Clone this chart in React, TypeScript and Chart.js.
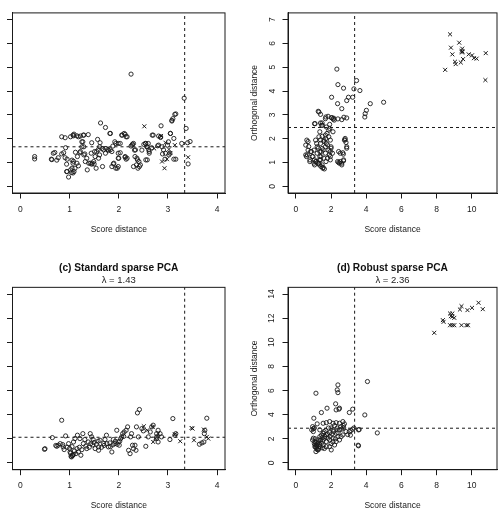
import React, { useEffect, useRef } from "react";
import { Chart, registerables } from "chart.js";
Chart.register(...registerables);

const FONT = "'Liberation Sans', Arial, Helvetica, sans-serif";
const INK = "#1a1a1a";

// ---- tick values ----
const xTicksSmall = [0, 1, 2, 3, 4];
const xTicksWide = [0, 2, 4, 6, 8, 10];
const yTicks7 = [0, 1, 2, 3, 4, 5, 6, 7];
const yTicks14 = [0, 2, 4, 6, 8, 10, 12, 14];

// ---- panel (a): score distance / orthogonal distance ----
const aRegular: [number, number][] = [
  [0.29,1.25],[0.29,1.15],[0.67,1.39],[0.70,1.42],[0.64,1.12],[0.74,1.10],[0.77,1.20],[0.84,1.36],[0.91,1.20],[0.84,2.08],
  [0.91,2.04],[0.92,1.62],[0.94,0.93],[0.94,0.62],[0.98,0.39],[1.02,2.08],[1.07,2.15],[1.08,2.12],[1.05,1.10],[1.08,1.05],
  [1.07,0.56],[1.04,0.58],[1.11,0.76],[1.15,0.97],[1.16,1.25],[1.18,0.86],[1.21,1.41],[1.25,1.66],[1.27,1.87],[1.18,2.08],
  [1.28,2.15],[1.38,2.17],[1.31,1.36],[1.35,1.18],[1.36,0.69],[1.42,0.97],[1.45,0.93],[1.50,0.94],[1.55,1.46],[1.59,1.18],
  [1.54,0.76],[1.61,1.32],[1.62,1.83],[1.57,1.97],[1.45,1.83],[1.63,2.66],[1.73,2.47],[1.67,0.83],[1.74,1.59],[1.79,1.50],
  [1.82,2.22],[1.88,1.69],[1.92,1.87],[1.89,0.94],[1.94,0.76],[1.99,0.83],[1.99,1.80],[2.03,1.41],[1.99,1.18],[2.06,2.15],
  [2.11,2.22],[2.15,2.08],[2.13,1.22],[2.15,1.14],[2.25,4.71],[2.25,1.69],[2.28,1.77],[2.30,0.83],[2.32,1.52],[2.33,1.25],
  [2.38,1.11],[2.36,0.90],[2.42,0.83],[2.47,1.52],[2.51,1.76],[2.55,1.80],[2.57,1.66],[2.60,1.80],[2.55,1.11],[2.62,1.39],
  [2.70,2.15],[2.67,1.62],[2.79,1.70],[2.86,2.54],[2.85,2.08],[2.89,1.36],[2.94,1.14],[2.99,1.73],[3.01,1.87],[3.04,1.39],
  [3.08,2.74],[3.10,2.84],[3.16,3.04],[3.05,2.22],[3.12,1.14],[3.16,1.14],[3.28,1.80],[3.33,3.70],[3.37,2.43],[3.40,1.83],
  [3.45,1.88],[3.41,0.94],
  [0.63,1.14],[0.88,1.41],[0.95,1.14],[0.95,0.62],[1.02,0.69],[1.05,0.76],[1.09,0.62],[1.07,0.97],[1.12,1.43],[1.09,2.19],
  [1.15,2.12],[1.22,2.11],[1.29,2.15],[1.25,1.87],[1.29,1.66],[1.22,1.46],[1.29,1.32],[1.32,1.04],[1.39,0.97],[1.46,0.97],
  [1.49,1.04],[1.44,1.39],[1.51,1.46],[1.52,1.25],[1.58,1.53],[1.61,1.66],[1.66,1.59],[1.69,1.53],[1.73,1.39],[1.78,1.55],
  [1.83,1.53],[1.86,1.46],[1.83,2.22],[1.86,0.83],[1.90,0.97],[1.97,0.76],[2.00,1.18],[1.99,1.39],[1.94,1.80],[2.03,1.80],
  [2.07,2.15],[2.13,2.18],[2.17,2.08],[2.13,1.25],[2.17,1.18],[2.27,1.73],[2.30,1.80],[2.34,1.53],[2.37,1.18],[2.41,1.04],
  [2.44,0.90],[2.39,0.76],[2.54,1.80],[2.58,1.66],[2.61,1.53],[2.58,1.11],[2.62,1.46],[2.68,2.15],[2.81,2.11],[2.85,2.05],
  [2.81,1.73],[2.88,1.66],[2.91,1.53],[2.95,1.39],[3.02,1.32],[3.05,2.22],[3.08,2.77],[3.14,3.02],[3.12,2.01],
];
const aOutliers: [number, number][] = [
  [2.52,2.52],[2.86,2.11],[2.95,1.83],[3.14,1.73],[2.88,1.04],[2.98,1.14],[2.93,0.76],[3.41,1.22],[3.02,1.55],[2.72,1.59],[3.05,1.40],
];
const aCutoffs = [3.34, 1.66];

// ---- panel (b) ----
const bRegular: [number, number][] = [
  [2.33,4.92],[2.39,4.27],[2.71,4.12],[2.03,3.74],[2.37,3.47],[2.61,3.26],[2.89,3.60],[2.99,3.74],[3.23,3.74],[3.30,4.09],
  [3.45,4.44],[3.64,4.02],[3.92,2.91],[4.01,3.19],[4.23,3.47],[4.99,3.53],[3.94,3.05],[2.89,2.87],[2.61,2.80],[2.80,2.01],
  [2.89,1.66],[2.76,1.94],[2.43,1.46],[2.67,1.41],[2.37,1.04],[2.48,0.97],[2.61,0.90],[2.71,1.11],[1.96,1.94],[2.11,2.29],
  [1.87,2.36],[2.05,2.88],[2.12,2.82],[2.18,2.78],[2.15,2.86],[1.68,2.84],[1.31,3.12],[1.27,3.15],[1.40,3.02],[1.06,2.63],
  [1.49,2.66],[1.46,2.56],[1.68,2.15],[1.77,2.22],[1.92,2.43],[1.87,2.08],[2.00,1.66],[1.96,1.46],[1.96,1.25],[1.96,1.11],
  [1.73,1.80],[1.87,1.52],[1.68,1.39],[1.59,1.18],[1.49,0.90],[1.55,0.79],[1.40,1.11],[1.31,0.97],[1.12,1.04],[1.03,0.97],
  [0.93,1.25],[0.80,1.11],[0.65,1.32],[0.56,1.32],[0.56,1.73],[0.62,1.94],[0.69,1.52],[0.84,1.46],[1.03,1.52],[1.12,1.94],
  [1.31,2.08],[1.21,1.66],[1.40,1.80],[1.49,1.59],[1.21,1.39],[1.36,1.25],[1.44,1.46],[1.59,1.94],[1.68,1.66],
  [1.70,2.91],[1.83,2.94],[2.02,2.88],[2.39,2.83],[2.73,2.90],[1.09,2.63],[1.40,2.66],[1.51,2.56],[1.73,2.49],[1.92,2.60],
  [1.36,2.29],[1.50,2.10],[1.40,1.95],[1.60,1.88],[1.70,2.00],[1.80,1.74],[1.18,1.80],[1.27,1.60],[1.36,1.46],[1.55,1.53],
  [0.69,1.88],[0.73,1.67],[0.88,1.46],[0.97,1.25],[1.06,1.11],[1.15,1.04],[1.25,0.97],[1.34,0.90],[1.43,0.83],[1.53,0.76],
  [1.62,0.73],[0.60,1.25],[0.79,1.04],[1.06,0.90],[1.34,1.11],[1.43,1.25],[1.71,1.04],[1.80,1.18],[1.90,1.32],[2.00,1.60],
  [2.08,1.39],[2.52,1.39],[2.70,1.35],[2.89,1.60],[2.80,1.95],[2.85,1.84],[2.52,1.04],[2.60,0.97],[2.43,1.00],[2.71,1.07],
];
const bOutliers: [number, number][] = [
  [8.77,6.38],[8.82,5.82],[8.90,5.54],[8.49,4.89],[9.05,5.23],[9.09,5.13],[9.29,6.03],[9.38,5.20],[9.42,5.68],[9.46,5.78],
  [9.51,5.34],[9.45,5.62],[9.48,5.66],[9.83,5.54],[10.02,5.50],[10.13,5.38],[10.28,5.36],[10.80,5.59],[10.78,4.46],
];
const bCutoffs = [3.34, 2.47];

// ---- panel (c) ----
const cRegular: [number, number][] = [
  [0.49,1.13],[0.50,1.18],[0.65,2.10],[0.74,1.38],[0.77,1.47],[0.81,1.60],[0.84,3.54],[0.87,1.33],[0.89,1.11],[0.92,2.24],
  [0.98,1.60],[1.01,0.91],[1.03,0.55],[1.04,0.50],[1.06,0.64],[1.08,1.74],[1.11,2.02],[1.16,2.30],[1.21,2.02],[1.27,2.43],
  [1.15,1.19],[1.18,0.91],[1.23,0.64],[1.13,0.77],[1.28,1.60],[1.31,1.94],[1.35,1.19],[1.38,1.74],[1.42,2.43],[1.45,2.16],
  [1.43,1.60],[1.48,1.94],[1.52,1.19],[1.55,1.55],[1.59,1.33],[1.62,1.88],[1.59,1.05],[1.69,1.60],[1.72,1.94],[1.75,2.30],
  [1.79,1.33],[1.82,1.66],[1.86,0.91],[1.89,1.94],[1.92,1.60],[1.96,2.71],[1.99,1.74],[2.01,1.47],[2.04,2.02],[2.06,2.16],
  [2.08,2.43],[2.11,2.57],[2.15,2.71],[2.18,2.99],[2.20,1.05],[2.23,0.77],[2.24,2.16],[2.26,2.43],[2.28,1.47],[2.30,1.19],
  [2.33,1.47],[2.35,1.05],[2.36,2.99],[2.38,4.15],[2.42,4.43],[2.40,2.16],[2.47,2.85],[2.50,2.66],[2.55,1.38],[2.60,2.16],
  [2.64,2.57],[2.67,2.99],[2.70,3.13],[2.77,2.43],[2.80,2.71],[2.77,2.02],[2.80,1.74],[2.84,2.43],[2.87,2.16],[2.77,2.16],
  [3.04,1.94],[3.10,3.68],[3.14,2.30],[3.16,2.43],[3.64,1.55],[3.69,1.66],[3.73,1.74],[3.79,3.71],[3.74,2.43],[3.75,2.71],
  [0.72,1.45],[0.86,1.52],[0.95,1.30],[1.00,1.20],[1.05,1.35],[1.10,1.00],[1.20,1.30],[1.25,1.10],[1.33,1.40],[1.40,1.30],
  [1.47,1.50],[1.50,1.70],[1.58,1.80],[1.65,1.30],[1.70,1.45],[1.76,1.60],[1.83,1.35],[1.88,1.50],[1.93,1.80],[1.97,1.55],
  [2.02,1.80],[2.10,2.20],[1.02,0.80],[1.06,0.60],[1.08,0.70],
];
const cOutliers: [number, number][] = [
  [2.51,3.04],[2.58,2.71],[2.70,1.74],[2.69,2.99],[3.25,1.80],[3.48,2.90],[3.50,2.85],[3.53,1.88],[3.73,2.77],[3.79,2.16],
  [3.82,2.02],[2.74,2.02],[2.80,2.43],[3.14,2.38],
];
const cCutoffs = [3.34, 2.13];

// ---- panel (d) ----
const dRegular: [number, number][] = [
  [1.14,5.78],[2.39,6.47],[2.35,6.06],[2.39,5.83],[4.07,6.75],[2.26,4.90],[2.48,4.54],[2.29,4.40],[2.45,4.46],[1.77,4.54],
  [1.45,4.18],[3.04,4.18],[3.23,4.46],[3.92,3.98],[1.02,3.71],[4.63,2.49],[3.54,1.47],[3.56,1.42],[3.60,2.77],
  [1.21,3.24],[0.90,2.74],[0.99,2.60],[0.95,3.01],[1.55,3.29],[1.73,3.34],[1.92,3.43],[2.11,3.29],[2.29,3.34],[2.48,3.29],
  [2.67,3.43],[2.76,3.24],[2.85,2.60],[3.04,2.60],[3.13,2.68],[3.23,2.80],[3.56,2.74],[2.01,1.08],[1.36,2.74],[1.55,2.46],
  [1.73,2.32],[1.92,2.51],[2.11,2.74],[2.29,2.46],[2.48,2.74],[2.57,2.18],[2.67,2.32],[0.99,2.05],[1.08,1.77],[1.18,1.49],
  [1.27,1.91],[1.36,2.18],[1.45,1.63],[1.55,1.91],[1.64,2.05],[1.73,1.77],[1.83,2.05],[1.92,1.91],[2.11,2.05],[2.29,1.77],
  [2.20,1.49],[2.39,2.18],[2.48,1.91],[1.08,1.35],[1.18,1.22],[1.27,1.08],[1.14,0.94],[1.36,1.35],[1.55,1.49],[1.73,1.35],
  [1.92,1.35],[1.05,1.60],[1.10,1.50],[1.15,1.70],[1.20,1.40],[1.25,1.60],[1.30,1.75],[1.35,1.55],[1.40,1.90],[1.45,2.30],
  [1.50,2.10],[1.60,2.60],[1.65,2.20],[1.70,2.70],[1.80,2.40],[1.85,2.90],[1.95,2.20],[2.00,2.90],[2.05,2.40],[2.15,2.60],
  [2.20,3.10],[2.25,2.00],[2.35,2.90],[2.40,2.50],[2.55,3.00],[2.60,2.80],[2.70,3.10],[2.72,2.90],[2.00,1.60],[2.10,1.75],
  [1.62,1.20],[1.50,1.25],[1.22,1.10],[1.12,1.30],[1.30,1.20],[1.05,2.90],[1.00,2.85],[1.10,2.00],[0.95,1.90],[2.95,2.35],
  [3.10,2.30],[3.30,2.90],
];
const dOutliers: [number, number][] = [
  [7.87,10.79],[8.36,11.84],[8.40,11.70],[8.77,12.39],[8.82,12.17],[8.77,11.42],[8.90,11.42],[9.01,11.42],[8.90,12.12],[9.01,12.03],
  [9.33,12.72],[9.42,13.00],[9.42,11.42],[9.70,11.42],[9.79,11.42],[9.76,12.67],[10.02,12.86],[10.39,13.28],[10.63,12.75],[8.90,12.39],
];
const dCutoffs = [3.34, 2.88];

const panelTitles = ["", "", "(c) Standard sparse PCA", "(d) Robust sparse PCA"];
const panelLambdas = ["", "", "λ = 1.43", "λ = 2.36"];

const boxPlugin = {
  id: "rbox",
  afterDatasetsDraw(chart: any) {
    const { ctx, chartArea } = chart;
    const { left, top, right, bottom } = chartArea;
    ctx.save();
    ctx.strokeStyle = INK;
    ctx.lineWidth = 1;
    ctx.strokeRect(left, top, right - left, bottom - top);
    ctx.restore();
  },
};

type PanelProps = {
  regular: [number, number][];
  outliers: [number, number][];
  cutoffs: number[];
  xRange: [number, number];
  yRange: [number, number];
  xTicks: number[];
  yTicks: number[];
  title: string;
  subtitle: string;
  left: number;
  top: number;
  width: number;
  height: number;
  yAxisW: number;
  xAxisH: number;
  padTop: number;
  padRight: number;
  yTickPad: number;
};

function ScatterPanel(p: PanelProps) {
  const ref = useRef<HTMLCanvasElement>(null);
  useEffect(() => {
    const [xMin, xMax] = p.xRange;
    const [yMin, yMax] = p.yRange;
    const hasTitle = p.title !== "";
    const chart = new Chart(ref.current as HTMLCanvasElement, {
      type: "scatter",
      data: {
        datasets: [
          {
            data: p.regular.map(([x, y]) => ({ x, y })),
            pointStyle: "circle",
            pointRadius: 2.1,
            pointBorderWidth: 0.9,
            borderWidth: 0.9,
            borderColor: INK,
            pointBorderColor: INK,
            backgroundColor: "rgba(0,0,0,0)",
            pointBackgroundColor: "rgba(0,0,0,0)",
          },
          {
            data: p.outliers.map(([x, y]) => ({ x, y })),
            pointStyle: "crossRot",
            pointRadius: 2.8,
            pointBorderWidth: 1,
            borderWidth: 1,
            borderColor: INK,
            pointBorderColor: INK,
            backgroundColor: "rgba(0,0,0,0)",
          },
          {
            data: [{ x: p.cutoffs[0], y: yMin }, { x: p.cutoffs[0], y: yMax }],
            showLine: true,
            pointRadius: 0,
            borderColor: INK,
            borderWidth: 1,
            borderDash: [3, 3],
          },
          {
            data: [{ x: xMin, y: p.cutoffs[1] }, { x: xMax, y: p.cutoffs[1] }],
            showLine: true,
            pointRadius: 0,
            borderColor: INK,
            borderWidth: 1,
            borderDash: [3, 3],
          },
        ],
      } as any,
      options: {
        responsive: false,
        animation: false,
        events: [],
        layout: { padding: { left: 0, right: p.padRight, top: p.padTop, bottom: 0 } },
        plugins: {
          legend: { display: false },
          tooltip: { enabled: false },
          title: {
            display: hasTitle,
            text: p.title,
            color: "#111",
            fullSize: false,
            font: { family: FONT, size: 10.2, weight: "bold" },
            padding: { top: 0, bottom: 0 },
          },
          subtitle: {
            display: hasTitle,
            text: p.subtitle,
            color: "#222",
            fullSize: false,
            font: { family: FONT, size: 9.5 },
            padding: { top: 0, bottom: 1.7 },
          },
        },
        scales: {
          x: {
            type: "linear",
            min: xMin,
            max: xMax,
            afterBuildTicks: (s: any) => {
              s.ticks = p.xTicks.map((v) => ({ value: v }));
            },
            afterFit: (s: any) => {
              s.height = p.xAxisH;
            },
            ticks: {
              autoSkip: false,
              maxRotation: 0,
              padding: 5.7,
              color: INK,
              font: { family: FONT, size: 8.5 },
            },
            grid: { display: true, drawOnChartArea: false, drawTicks: true, tickLength: 5.5, color: INK, lineWidth: 1 },
            border: { display: true, color: INK, width: 1 },
            title: {
              display: true,
              text: "Score distance",
              color: INK,
              font: { family: FONT, size: 8.5 },
              padding: { top: 0, bottom: 3.6 },
            },
          },
          y: {
            type: "linear",
            min: yMin,
            max: yMax,
            afterBuildTicks: (s: any) => {
              s.ticks = p.yTicks.map((v) => ({ value: v }));
            },
            afterFit: (s: any) => {
              s.width = p.yAxisW;
            },
            ticks: {
              autoSkip: false,
              minRotation: 90,
              maxRotation: 90,
              crossAlign: "center",
              padding: p.yTickPad,
              color: INK,
              font: { family: FONT, size: 8.5 },
            },
            grid: { display: true, drawOnChartArea: false, drawTicks: true, tickLength: 5.5, color: INK, lineWidth: 1 },
            border: { display: true, color: INK, width: 1 },
            title: {
              display: true,
              text: "Orthogonal distance",
              color: INK,
              font: { family: FONT, size: 8.5 },
              padding: { top: p.yAxisW - 38.8, bottom: 0 },
            },
          },
        },
      } as any,
      plugins: [boxPlugin],
    });
    return () => chart.destroy();
  }, []);
  return (
    <canvas
      ref={ref}
      width={p.width}
      height={p.height}
      style={{ position: "absolute", left: p.left, top: p.top, width: p.width, height: p.height }}
    />
  );
}

export default function App() {
  const leftCol = { left: -40, width: 275, yAxisW: 52.5, padRight: 10 };
  const rightCol = { left: 245, width: 257, yAxisW: 43, padRight: 1.5 };
  const topRow = { top: 0, height: 238, padTop: 11, xAxisH: 45 };
  const botRow = { top: 250, height: 264, padTop: 12, xAxisH: 44.3 };
  return (
    <div
      style={{
        position: "fixed",
        left: 0,
        top: 0,
        width: 502,
        height: 514,
        overflow: "hidden",
        background: "#fff",
      }}
    >
      <ScatterPanel
        regular={aRegular} outliers={aOutliers} cutoffs={aCutoffs}
        xRange={[-0.16, 4.16]} yRange={[-0.28, 7.28]} xTicks={xTicksSmall} yTicks={yTicks7}
        title={panelTitles[0]} subtitle={panelLambdas[0]}
        {...leftCol} {...topRow} yTickPad={7.8}
      />
      <ScatterPanel
        regular={bRegular} outliers={bOutliers} cutoffs={bCutoffs}
        xRange={[-0.45, 11.44]} yRange={[-0.28, 7.28]} xTicks={xTicksWide} yTicks={yTicks7}
        title={panelTitles[1]} subtitle={panelLambdas[1]}
        {...rightCol} {...topRow} yTickPad={7.8}
      />
      <ScatterPanel
        regular={cRegular} outliers={cOutliers} cutoffs={cCutoffs}
        xRange={[-0.16, 4.16]} yRange={[-0.56, 14.56]} xTicks={xTicksSmall} yTicks={yTicks14}
        title={panelTitles[2]} subtitle={panelLambdas[2]}
        {...leftCol} {...botRow} yTickPad={5.8}
      />
      <ScatterPanel
        regular={dRegular} outliers={dOutliers} cutoffs={dCutoffs}
        xRange={[-0.45, 11.44]} yRange={[-0.56, 14.56]} xTicks={xTicksWide} yTicks={yTicks14}
        title={panelTitles[3]} subtitle={panelLambdas[3]}
        {...rightCol} {...botRow} yTickPad={5.8}
      />
    </div>
  );
}
